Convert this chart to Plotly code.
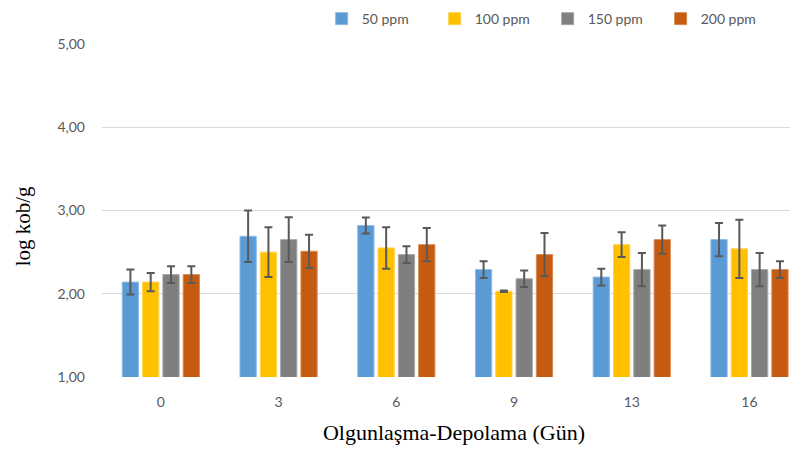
import plotly.graph_objects as go

days = ["0", "3", "6", "9", "13", "16"]
series_names = ["50 ppm", "100 ppm", "150 ppm", "200 ppm"]
values = {
    "50 ppm":  [2.14, 2.69, 2.82, 2.29, 2.20, 2.65],
    "100 ppm": [2.14, 2.50, 2.55, 2.03, 2.59, 2.54],
    "150 ppm": [2.23, 2.65, 2.47, 2.18, 2.29, 2.29],
    "200 ppm": [2.23, 2.51, 2.59, 2.47, 2.65, 2.29],
}
errors = {
    "50 ppm":  [0.15, 0.31, 0.095, 0.10, 0.10, 0.20],
    "100 ppm": [0.11, 0.30, 0.25, 0.01, 0.15, 0.35],
    "150 ppm": [0.10, 0.27, 0.10, 0.10, 0.20, 0.20],
    "200 ppm": [0.10, 0.20, 0.20, 0.26, 0.17, 0.10],
}
colors = {"50 ppm": "#5B9BD5", "100 ppm": "#FFC000", "150 ppm": "#7F7F7F", "200 ppm": "#C55A11"}
borders = {"50 ppm": "#8DBAE3", "100 ppm": "#FFD24D", "150 ppm": "#A6A6A6", "200 ppm": "#D88A55"}

fig = go.Figure()
for name in series_names:
    fig.add_trace(go.Bar(
        x=days, y=values[name], name=name,
        marker=dict(color=colors[name], line=dict(color=borders[name], width=1)),
        error_y=dict(type="data", array=errors[name], visible=True,
                     color="#595959", thickness=2, width=4),
    ))

fig.add_annotation(
    text="log kob/g", textangle=-90, xref="paper", yref="paper",
    x=-0.112, y=0.453, xanchor="center", yanchor="middle", showarrow=False,
    borderpad=0,
    font=dict(family="Liberation Serif, Times New Roman, serif", size=21, color="#000000"),
)

fig.update_layout(
    width=798, height=460,
    margin=dict(l=94, r=0, t=36, b=91, autoexpand=False),
    plot_bgcolor="white", paper_bgcolor="white",
    barmode="group", bargap=0.31, bargroupgap=0.2,
    separators=",.",
    font=dict(family="Lato, Open Sans, sans-serif", size=14, color="#595959"),
    legend=dict(orientation="h", x=0.312, xref="paper", y=1.075, yref="paper", yanchor="middle",
                xanchor="left", entrywidth=68, entrywidthmode="pixels",
                font=dict(size=14, color="#595959"), itemclick=False),
    xaxis=dict(type="category", range=[-0.5, 5.48], showgrid=False, showline=False,
               ticks="", ticklabelstandoff=15, tickfont=dict(size=14, color="#595959"),
               title=dict(text="Olgunlaşma-Depolama (Gün)", standoff=15,
                          font=dict(family="Liberation Serif, Times New Roman, serif", size=22, color="#000000"))),
    yaxis=dict(range=[1, 5], dtick=1, tickformat=".2f", showgrid=True, gridcolor="#D9D9D9",
               gridwidth=1, zeroline=False, showline=False, ticks="", ticklabelstandoff=16,
               tickfont=dict(size=14, color="#595959")),
)

fig.write_html("out.html")
